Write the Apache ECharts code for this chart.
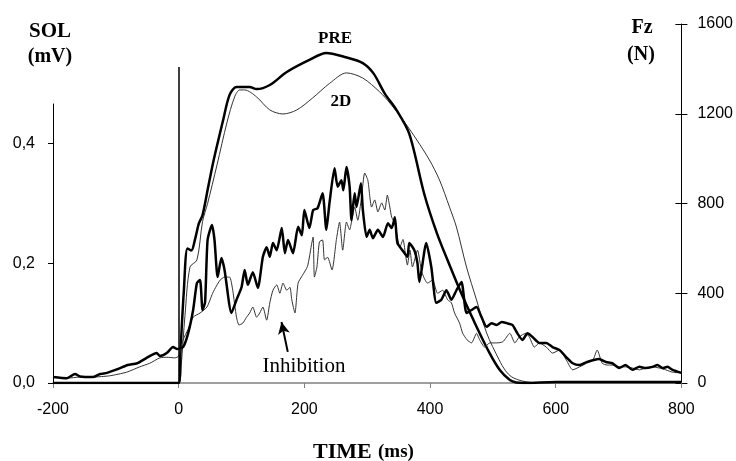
<!DOCTYPE html>
<html>
<head>
<meta charset="utf-8">
<script src="https://cdn.jsdelivr.net/npm/echarts@6/dist/echarts.min.js"></script>
<style>html,body{margin:0;padding:0;background:#fff}#c{width:736px;height:461px}</style>
</head>
<body>
<div id="c"></div>
<script>
// ---- DATA ----
// Force (Fz, N) - PRE condition
const preForceTime = [-200,-100,0,3,8,14,20,26,32,38,46,54,62,70,81,92,113,124,145,172,208,235,264,293,310,328,347,367,391,411,431,452,474,495,511,527,537,550,600,700,800];
const preForceVal  = [0,0,0,150,400,600,590,640,710,749,860,972,1070,1163,1284,1319,1319,1310,1328,1386,1440,1471,1453,1426,1380,1290,1215,1110,840,667,526,385,251,132,58,13,2,0,5,5,5];
// Force (Fz, N) - 2D condition
const d2ForceTime = [-200,0,4,10,18,29,38,46,61,77,89,97,105,124,145,166,188,213,240,267,293,320,336,357,379,399,415,431,442,458,474,490,510,520,530,545,560,580,800];
const d2ForceVal  = [0,0,80,300,517,548,720,800,972,1163,1275,1306,1306,1275,1217,1199,1217,1270,1335,1382,1359,1297,1248,1172,1083,994,905,784,695,517,370,223,103,55,27,10,3,0,0];
// SOL EMG (mV) - PRE condition
const preEmgTime = [-200,-178,-165,-157,-136,-125,-114,-98,-81,-66,-51,-35,-30,-19,-9,-3,7,15,23,29,34,38,42,46,53,57,62,68,73,84,92,100,105,110,118,126,134,140,145,150,156,164,169,174,182,190,196,200,208,214,221,229,235,240,248,253,259,262,267,272,275,280,283,290,293,299,304,309,317,325,333,339,344,348,356,364,367,375,380,383,394,402,410,418,426,434,442,450,458,466,474,482,490,498,506,514,522,531,539,547,555,563,574,585,595,606,617,627,638,649,659,669,680,690,701,711,722,733,743,754,762,770,778,786,800];
const preEmgVal  = [0.010,0.008,0.015,0.011,0.010,0.015,0.017,0.023,0.030,0.033,0.042,0.050,0.045,0.050,0.060,0.057,0.060,0.083,0.122,0.167,0.172,0.122,0.135,0.239,0.264,0.239,0.177,0.209,0.189,0.117,0.139,0.160,0.189,0.164,0.185,0.159,0.211,0.227,0.211,0.234,0.222,0.259,0.217,0.239,0.217,0.261,0.247,0.289,0.259,0.289,0.292,0.317,0.256,0.301,0.359,0.328,0.339,0.322,0.361,0.328,0.272,0.317,0.294,0.334,0.290,0.244,0.256,0.242,0.256,0.244,0.267,0.259,0.277,0.234,0.222,0.211,0.234,0.222,0.200,0.169,0.234,0.194,0.134,0.139,0.155,0.139,0.155,0.169,0.117,0.122,0.127,0.110,0.094,0.100,0.097,0.102,0.100,0.097,0.083,0.072,0.083,0.077,0.067,0.067,0.060,0.055,0.043,0.033,0.030,0.035,0.038,0.040,0.035,0.033,0.025,0.030,0.022,0.027,0.025,0.027,0.030,0.025,0.027,0.022,0.017];
// SOL EMG (mV) - 2D condition
const d2EmgTime = [-200,-178,-157,-136,-110,-83,-62,-46,-30,-19,-6,0,7,15,23,34,45,54,60,66,73,81,86,92,96,102,108,113,118,124,129,134,140,145,150,156,161,166,172,177,180,185,190,197,205,212,214,216,220,224,229,232,237,244,251,256,261,267,272,275,280,285,291,296,301,307,312,317,323,328,332,336,339,344,352,357,360,364,368,372,380,387,396,404,412,420,428,434,439,447,452,459,466,474,479,487,495,506,516,527,535,542,552,558,566,574,585,595,606,617,627,638,649,659,666,674,682,690,701,711,722,733,743,754,765,775,786,800];
const d2EmgVal  = [0.010,0.008,0.010,0.010,0.012,0.018,0.027,0.033,0.042,0.043,0.042,0.045,0.072,0.090,0.110,0.117,0.127,0.150,0.162,0.172,0.177,0.177,0.155,0.110,0.097,0.100,0.110,0.117,0.127,0.110,0.117,0.127,0.105,0.134,0.155,0.164,0.150,0.167,0.155,0.160,0.139,0.117,0.167,0.180,0.195,0.235,0.244,0.177,0.194,0.236,0.239,0.206,0.210,0.189,0.240,0.269,0.222,0.269,0.256,0.269,0.294,0.272,0.311,0.351,0.339,0.294,0.306,0.286,0.301,0.289,0.314,0.294,0.277,0.267,0.227,0.240,0.222,0.197,0.222,0.194,0.222,0.185,0.167,0.172,0.150,0.155,0.139,0.134,0.117,0.100,0.083,0.072,0.067,0.083,0.072,0.060,0.067,0.067,0.069,0.083,0.067,0.077,0.083,0.077,0.060,0.067,0.060,0.050,0.055,0.038,0.022,0.027,0.033,0.038,0.055,0.033,0.030,0.030,0.027,0.027,0.025,0.022,0.025,0.027,0.025,0.022,0.018,0.017];
// axis ticks
const xTicks = [-200, 800, 200];          // min, max, interval
const emgTicks = [0, 0.2, 0.4];
const forceTicks = [0, 1600, 400];
// reference marks (ms, mV)
const leftAxisTop = 0.467;
const zeroLineTop = 0.528;
const arrowTail = [173.6, 0.052];
const arrowTip = [163.6, 0.102];

// ---- CHART ----
const zip = (a, b) => a.map((t, i) => [t, b[i]]);
const SANS = 'Liberation Sans, Arial, sans-serif';
const SERIF = 'Liberation Serif, Times New Roman, serif';
const chart = echarts.init(document.getElementById('c'), null, {renderer: 'canvas'});
const txt = (text, x, y, size, weight, align) => ({
  type: 'text', x: x, y: y,
  style: {text: text, fontFamily: SERIF, fontSize: size, fontWeight: weight, fill: '#000',
          textAlign: align || 'center', textVerticalAlign: 'middle'}
});
chart.setOption({
  animation: false,
  backgroundColor: '#fff',
  grid: {left: 53, right: 54, top: 24, bottom: 78},
  xAxis: {
    type: 'value', min: xTicks[0], max: xTicks[1], interval: xTicks[2],
    axisLine: {onZero: false, lineStyle: {color: '#808080', width: 1.5}},
    axisTick: {length: 5, lineStyle: {color: '#808080'}},
    axisLabel: {margin: 19, fontSize: 16, color: '#000', fontFamily: SANS},
    splitLine: {show: false}
  },
  yAxis: [
    {
      type: 'value', position: 'left', min: 0, max: 0.6, interval: 0.2,
      axisLine: {show: false, onZero: false},
      axisTick: {show: true, length: 5, customValues: emgTicks, lineStyle: {color: '#000', width: 1}},
      axisLabel: {customValues: emgTicks, margin: 18, fontSize: 16, color: '#000', fontFamily: SANS,
                  formatter: v => v.toFixed(1).replace('.', ',')},
      splitLine: {show: false}
    },
    {
      type: 'value', position: 'right', min: forceTicks[0], max: forceTicks[1], interval: forceTicks[2],
      axisLine: {show: true, onZero: false, lineStyle: {color: '#000', width: 1}},
      axisTick: {show: true, length: 6, lineStyle: {color: '#000', width: 1}},
      axisLabel: {margin: 16, fontSize: 16, color: '#000', fontFamily: SANS, formatter: v => String(v)},
      splitLine: {show: false}
    },
    {
      type: 'value', position: 'right', min: forceTicks[0], max: forceTicks[1], interval: forceTicks[2],
      axisLine: {show: false, onZero: false},
      axisTick: {show: true, inside: true, length: 6, lineStyle: {color: '#000', width: 1}},
      axisLabel: {show: false},
      splitLine: {show: false}
    }
  ],
  series: [
    {
      type: 'line', yAxisIndex: 1, data: zip(d2ForceTime, d2ForceVal), showSymbol: false, smooth: 0.3,
      lineStyle: {color: '#333', width: 1}
    },
    {
      type: 'line', yAxisIndex: 1, data: zip(preForceTime, preForceVal), showSymbol: false, smooth: 0.3,
      lineStyle: {color: '#000', width: 2.5}
    },
    {
      type: 'line', yAxisIndex: 0, data: zip(d2EmgTime, d2EmgVal), showSymbol: false, smooth: 0.2,
      lineStyle: {color: '#333', width: 1},
      markLine: {
        silent: true, symbol: ['none', 'none'], label: {show: false},
        data: [
          [{coord: [xTicks[0], 0], lineStyle: {color: '#000', width: 1, type: 'solid'}}, {coord: [xTicks[0], leftAxisTop]}],
          [{coord: [0, 0], lineStyle: {color: '#000', width: 1.5, type: 'solid'}}, {coord: [0, zeroLineTop]}]
        ]
      }
    },
    {
      type: 'line', yAxisIndex: 0, data: zip(preEmgTime, preEmgVal), showSymbol: false, smooth: 0.2,
      lineStyle: {color: '#000', width: 2.5},
      markLine: {
        silent: true, symbol: ['none', 'arrow'], symbolSize: [9, 12], label: {show: false},
        lineStyle: {color: '#000', width: 2, type: 'solid'},
        data: [[{coord: arrowTail}, {coord: arrowTip}]]
      }
    }
  ],
  graphic: [
    txt('SOL', 50, 32, 21, 'bold'),
    txt('(mV)', 50, 57, 20, 'bold'),
    txt('Fz', 642, 28, 20, 'bold'),
    txt('(N)', 641, 55, 20, 'bold'),
    txt('PRE', 335, 39, 17, 'bold'),
    txt('2D', 341, 102, 17, 'bold'),
    txt('Inhibition', 304, 366, 21, 'normal'),
    txt('TIME', 313, 452, 22, 'bold', 'left'),
    txt('(ms)', 378, 452, 19, 'bold', 'left')
  ]
});
</script>
</body>
</html>
